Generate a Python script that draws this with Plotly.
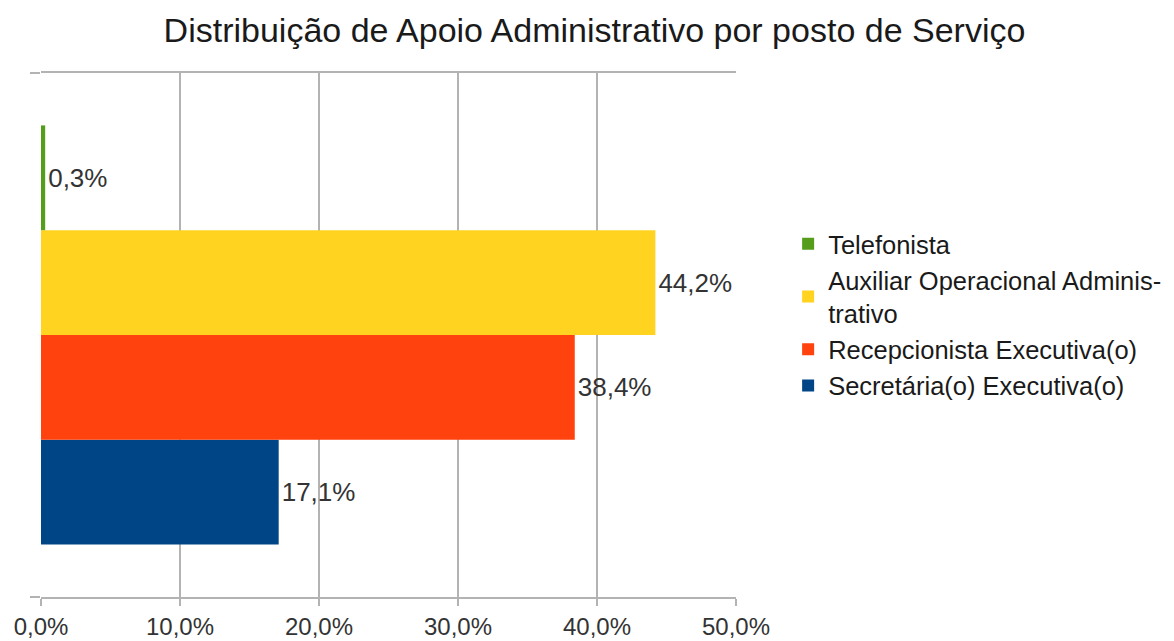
import plotly.graph_objects as go

series = ["Secretária(o) Executiva(o)", "Recepcionista Executiva(o)",
          "Auxiliar Operacional Adminis-<br>trativo", "Telefonista"]
values = [17.1, 38.4, 44.2, 0.3]
colors = ["#004586", "#ff420e", "#ffd320", "#579d1c"]
x_ticks = [0, 10, 20, 30, 40, 50]
x_tick_labels = ["0,0%", "10,0%", "20,0%", "30,0%", "40,0%", "50,0%"]

fig = go.Figure()
for name, v, c in zip(series, values, colors):
    fig.add_trace(go.Bar(
        y=[0], x=[v], name=name, orientation="h",
        marker=dict(color=c, line=dict(width=0)),
        text=[f"{v:.1f}%".replace(".", ",")], textposition="outside",
        textfont=dict(size=26, color="#333333"), cliponaxis=False,
    ))

grid = "#b3b3b3"
fig.update_layout(
    width=1166, height=633,
    margin=dict(l=33, r=438, t=65, b=44, autoexpand=False),
    paper_bgcolor="white", plot_bgcolor="white",
    barmode="group", bargap=0.2, bargroupgap=0,
    font=dict(family="Liberation Sans, Arial, sans-serif", size=26, color="#333333"),
    title=dict(text="Distribuição de Apoio Administrativo por posto de Serviço",
               x=0.503, xanchor="center", y=0.965, yanchor="middle",
               font=dict(size=34, color="#1a1a1a")),
    xaxis=dict(range=[0, 50], tickvals=x_ticks, ticktext=x_tick_labels,
               showgrid=True, gridcolor=grid, gridwidth=1.5,
               showline=True, linecolor=grid, linewidth=1.5, mirror=True,
               ticks="outside", ticklen=7, tickcolor=grid, tickwidth=1.5,
               tickfont=dict(size=24, color="#333333"), zeroline=False,
               automargin=False),
    yaxis=dict(range=[-0.5, 0.5], tickvals=[-0.5, 0.5], ticktext=["", ""],
               showgrid=False, showline=False, zeroline=False,
               ticks="outside", ticklen=10, tickcolor=grid, tickwidth=1.5,
               automargin=False),
    legend=dict(traceorder="reversed", x=1.075, xanchor="left", y=0.718, yanchor="top",
                font=dict(size=25.5, color="#1a1a1a"), itemwidth=30,
                tracegroupgap=0),
    showlegend=True,
)

fig.write_html("out.html")
